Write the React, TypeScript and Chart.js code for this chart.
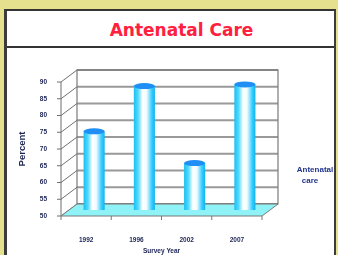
import React, { useEffect, useRef } from "react";
import { Chart, registerables } from "chart.js";

Chart.register(...registerables);

const categories: string[] = ["1992", "1996", "2002", "2007"];
const antenatalCare: number[] = [73.5, 87, 64, 87.5];
const seriesLabel = "Antenatal care";
const chartTitle = "Antenatal Care";
const yAxisTitle = "Percent";
const xAxisTitle = "Survey Year";
const yMin = 50;
const yMax = 90;
const yStep = 5;

const DX = 16;
const DY = -12;
const BAR_PCT = 0.42;
const TEXT = "#1c2454";

const frame3d = {
  id: "frame3d",
  beforeDatasetsDraw(chart: any) {
    const { ctx, chartArea: a, scales } = chart;
    const y = scales.y;
    const L = a.left, R = a.right, T = a.top, B = a.bottom;
    ctx.save();
    // back wall
    ctx.fillStyle = "#ffffff";
    ctx.fillRect(L + DX, T + DY, R - L, B - T);
    ctx.strokeStyle = "#999999";
    ctx.lineWidth = 2;
    y.ticks.forEach((t: any) => {
      const py = y.getPixelForValue(t.value);
      ctx.beginPath();
      ctx.moveTo(L + DX, py + DY);
      ctx.lineTo(R + DX, py + DY);
      ctx.stroke();
    });
    ctx.strokeStyle = "#7a7a7a";
    ctx.lineWidth = 1.2;
    ctx.strokeRect(L + DX, T + DY, R - L, B - T);
    // side wall
    ctx.strokeStyle = "#6f6f6f";
    ctx.lineWidth = 1;
    y.ticks.forEach((t: any) => {
      const py = y.getPixelForValue(t.value);
      ctx.beginPath();
      ctx.moveTo(L, py);
      ctx.lineTo(L + DX, py + DY);
      ctx.moveTo(L - 4, py);
      ctx.lineTo(L, py);
      ctx.stroke();
    });
    ctx.beginPath();
    ctx.moveTo(L, T);
    ctx.lineTo(L, B);
    ctx.stroke();
    // floor
    ctx.fillStyle = "#8ef2f6";
    ctx.beginPath();
    ctx.moveTo(L, B);
    ctx.lineTo(R, B);
    ctx.lineTo(R + DX, B + DY);
    ctx.lineTo(L + DX, B + DY);
    ctx.closePath();
    ctx.fill();
    ctx.strokeStyle = "#7a7a7a";
    ctx.stroke();
    // x axis ticks
    const n = categories.length;
    ctx.beginPath();
    for (let i = 0; i <= n; i++) {
      const px = L + (i * (R - L)) / n;
      ctx.moveTo(px, B);
      ctx.lineTo(px, B + 4);
    }
    ctx.stroke();
    ctx.restore();
  },
  beforeDatasetDraw(chart: any) {
    chart.ctx.save();
    chart.ctx.translate(DX / 2, DY / 2);
  },
  afterDatasetDraw(chart: any) {
    const ctx = chart.ctx;
    const meta = chart.getDatasetMeta(0);
    meta.data.forEach((el: any) => {
      const w = el.width;
      ctx.beginPath();
      ctx.ellipse(el.x, el.y, w / 2, 3, 0, 0, Math.PI * 2);
      ctx.fillStyle = "#1f8ff5";
      ctx.fill();
    });
    ctx.restore();
  },
  afterDraw(chart: any) {
    const ctx = chart.ctx;
    ctx.save();
    ctx.fillStyle = "#22358c";
    ctx.font = "bold 8px 'Liberation Sans', Arial, sans-serif";
    ctx.textAlign = "center";
    ctx.textBaseline = "middle";
    const parts = seriesLabel.split(" ");
    ctx.fillText(parts[0], 315, 122);
    ctx.fillText(parts.slice(1).join(" "), 310, 133);
    ctx.restore();
  },
};

export default function App() {
  const ref = useRef<HTMLCanvasElement | null>(null);
  useEffect(() => {
    if (!ref.current) return;
    const chart = new Chart(ref.current, {
      type: "bar",
      data: {
        labels: categories,
        datasets: [
          {
            label: seriesLabel,
            data: antenatalCare,
            barPercentage: BAR_PCT,
            categoryPercentage: 1,
            borderWidth: 0,
            backgroundColor: (c: any) => {
              const ch = c.chart;
              if (!ch.chartArea || !ch.scales.x) return "#40d0ff";
              const xs = ch.scales.x;
              const cx = xs.getPixelForValue(c.dataIndex);
              const w = ((ch.chartArea.right - ch.chartArea.left) / categories.length) * BAR_PCT;
              const g = ch.ctx.createLinearGradient(cx - w / 2, 0, cx + w / 2, 0);
              g.addColorStop(0, "#18c0f2");
              g.addColorStop(0.2, "#50d8ff");
              g.addColorStop(0.42, "#ffffff");
              g.addColorStop(0.6, "#f0fcff");
              g.addColorStop(0.85, "#36ccff");
              g.addColorStop(1, "#10b4ec");
              return g;
            },
          },
        ],
      },
      options: {
        responsive: false,
        animation: false,
        devicePixelRatio: 1,
        layout: { padding: { left: 14, right: 76, top: 34, bottom: 0 } },
        plugins: {
          legend: { display: false },
          tooltip: { enabled: false },
          title: { display: false },
        },
        scales: {
          x: {
            grid: { display: false },
            border: { display: false },
            ticks: {
              color: TEXT,
              padding: 12,
              font: { size: 6.5, weight: "bold", family: "'Liberation Sans', Arial, sans-serif" },
            },
            title: {
              display: true,
              text: xAxisTitle,
              color: TEXT,
              padding: { top: 5, bottom: 0 },
              font: { size: 6.5, weight: "bold", family: "'Liberation Sans', Arial, sans-serif" },
            },
            afterFit: (s: any) => {
              s.height = 39;
            },
          },
          y: {
            min: yMin,
            max: yMax,
            grid: { display: false },
            border: { display: false },
            ticks: {
              stepSize: yStep,
              color: TEXT,
              padding: 6,
              font: { size: 6.5, weight: "bold", family: "'Liberation Sans', Arial, sans-serif" },
            },
            title: {
              display: true,
              text: yAxisTitle,
              color: TEXT,
              padding: { top: 3, bottom: 0 },
              font: { size: 9.5, weight: "bold", family: "'Liberation Sans', Arial, sans-serif" },
            },
            afterFit: (s: any) => {
              s.width = 47;
            },
          },
        },
      },
      plugins: [frame3d],
    } as any);
    return () => chart.destroy();
  }, []);

  return (
    <div style={{ position: "fixed", left: 0, top: 0, width: 338, height: 255, background: "#e4e08e", overflow: "hidden" }}>
      <div
        style={{
          position: "absolute",
          left: 4,
          top: 9,
          width: 332,
          height: 246,
          boxSizing: "border-box",
          background: "#ffffff",
          borderLeft: "3px solid #3c3c3c",
          borderTop: "2px solid #333333",
          borderRight: "2px solid #3c3c3c",
        }}
      >
        <div
          style={{
            height: 37,
            boxSizing: "border-box",
            borderBottom: "2px solid #333333",
            paddingTop: 3,
            textAlign: "center",
            lineHeight: "32px",
            color: "#ff2040",
            fontFamily: "'DejaVu Sans', sans-serif",
            fontWeight: "bold",
            fontSize: 17,
            paddingLeft: 22,
          }}
        >
          {chartTitle}
        </div>
      </div>
      <canvas ref={ref} width={338} height={207} style={{ position: "absolute", left: 0, top: 48, width: 338, height: 207 }} />
    </div>
  );
}
